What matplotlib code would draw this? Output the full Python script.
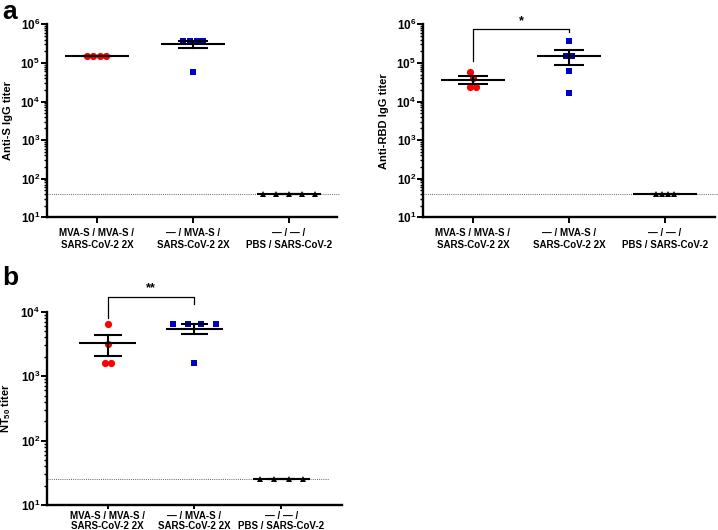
import numpy as np
import matplotlib
matplotlib.use("Agg")
import matplotlib.pyplot as plt
from matplotlib.ticker import FuncFormatter, LogLocator, NullFormatter

plt.rcParams['font.family'] = ['Liberation Sans', 'DejaVu Sans']
plt.rcParams['font.weight'] = 'bold'
plt.rcParams['mathtext.fontset'] = 'custom'
plt.rcParams['mathtext.rm'] = 'Liberation Sans:bold'
plt.rcParams['mathtext.bf'] = 'Liberation Sans:bold'
plt.rcParams['mathtext.it'] = 'Liberation Sans:bold:italic'

# ---- data ----
group_labels = ["MVA-S / MVA-S /\nSARS-CoV-2 2X",
                "\u2014 / MVA-S /\nSARS-CoV-2 2X",
                "\u2014 / \u2014 /\nPBS / SARS-CoV-2"]

antiS_mva_mva = [1.5e5, 1.5e5, 1.5e5, 1.5e5]
antiS_none_mva = [3.7e5, 3.7e5, 3.7e5, 3.7e5, 5.9e4]
antiS_pbs = [40, 40, 40, 40, 40]

antiRBD_mva_mva = [5.9e4, 4.0e4, 2.35e4, 2.35e4]
antiRBD_none_mva = [3.7e5, 1.5e5, 1.5e5, 6.0e4, 1.65e4]
antiRBD_pbs = [40, 40, 40, 40]

nt50_mva_mva = [6.5e3, 3.2e3, 1.6e3, 1.6e3]
nt50_none_mva = [6.4e3, 6.4e3, 6.4e3, 6.4e3, 1.6e3]
nt50_pbs = [25, 25, 25, 25]

lod_igg = 40
lod_nt50 = 25

# horizontal scatter offsets (layout only)
jit_a1 = [[-0.10, -0.04, 0.03, 0.09], [-0.10, -0.03, 0.04, 0.10, 0.0], [-0.27, -0.135, 0.0, 0.135, 0.27]]
jit_a2 = [[-0.03, 0.0, -0.03, 0.03], [0.0, -0.03, 0.03, 0.0, 0.0], [-0.09, -0.03, 0.03, 0.09]]
jit_b = [[0.0, 0.0, -0.035, 0.035], [-0.25, -0.08, 0.08, 0.25, 0.0], [-0.24, -0.08, 0.09, 0.25]]

colors = ['#ff0000', '#0000c8', '#000000']
markers = ['o', 's', '^']
msizes = [5.2, 4.8, 4.6]

fig = plt.figure(figsize=(7.18, 5.30), dpi=100)

def sup_fmt(v, pos):
    e = int(round(np.log10(v)))
    return r'$\mathbf{10^{%d}}$' % e

def panel(rect, groups, jits, ylim, ylabel, lod, lod_end, xlim, xpad, xtl, lsp):
    ax = fig.add_axes(rect)
    for i, (vals, jit) in enumerate(zip(groups, jits)):
        vals = np.asarray(vals, float)
        x = i + np.asarray(jit)
        ax.plot(x, vals, linestyle='none', marker=markers[i], color=colors[i],
                markersize=msizes[i], markeredgewidth=0, zorder=3)
        m = vals.mean()
        sem = vals.std(ddof=1) / np.sqrt(len(vals))
        ax.plot([i - 0.33, i + 0.33], [m, m], color='black', lw=1.5, zorder=4, solid_capstyle='butt')
        ax.plot([i, i], [m - sem, m + sem], color='black', lw=1.5, zorder=4)
        for yv in (m - sem, m + sem):
            ax.plot([i - 0.16, i + 0.16], [yv, yv], color='black', lw=1.5, zorder=4, solid_capstyle='butt')
    ax.plot([xlim[0], lod_end], [lod, lod], color='#666666', lw=0.7, ls=(0, (1, 1.2)),
            clip_on=False, zorder=1)
    ax.set_yscale('log')
    ax.set_ylim(*ylim)
    ax.set_xlim(*xlim)
    ax.yaxis.set_major_locator(LogLocator(base=10, numticks=10))
    ax.yaxis.set_major_formatter(FuncFormatter(sup_fmt))
    ax.yaxis.set_minor_locator(LogLocator(base=10, subs=np.arange(2, 10), numticks=20))
    ax.yaxis.set_minor_formatter(NullFormatter())
    ax.set_xticks([0, 1, 2])
    ax.set_xticklabels(group_labels, fontsize=7, fontweight='bold', linespacing=lsp)
    for s in ('top', 'right'):
        ax.spines[s].set_visible(False)
    for s in ('left', 'bottom'):
        ax.spines[s].set_linewidth(1.7)
    ax.tick_params(axis='y', which='major', length=4, width=1.4, labelsize=8.5, pad=1)
    ax.tick_params(axis='y', which='minor', length=2.2, width=1.0)
    ax.tick_params(axis='x', which='major', length=xtl, width=1.4, pad=xpad)
    ax.set_ylabel(ylabel, fontsize=8, fontweight='bold', labelpad=5)
    return ax

W, H = 718.0, 530.0
def rect(l, r, t, b):
    return [l / W, 1 - b / H, (r - l) / W, (b - t) / H]

ax1 = panel(rect(47, 337, 24.3, 217.3), [antiS_mva_mva, antiS_none_mva, antiS_pbs], jit_a1,
            (10, 1e6), 'Anti-S IgG titer', lod_igg, 2.52, (-0.52, 2.5), 4, 4, 1.15)
ax2 = panel(rect(423, 715, 24.3, 217.3), [antiRBD_mva_mva, antiRBD_none_mva, antiRBD_pbs], jit_a2,
            (10, 1e6), 'Anti-RBD IgG titer', lod_igg, 2.58, (-0.52, 2.52), 4, 4, 1.15)
ax3 = panel(rect(47, 342, 311.7, 505), [nt50_mva_mva, nt50_none_mva, nt50_pbs], jit_b,
            (10, 1e4), r'$\mathbf{NT_{50}}$ titer', lod_nt50, 2.55, (-0.7, 2.7), 1, 3, 1.0)

# significance brackets
ax2.plot([0, 0, 1, 1], [1.1e5, 7.6e5, 7.6e5, 6.3e5], color='black', lw=0.9, clip_on=False)
ax2.text(0.5, 8.3e5, '*', ha='center', va='bottom', fontsize=9, fontweight='bold')
ax3.plot([0, 0, 1, 1], [8.1e3, 1.7e4, 1.7e4, 1.3e4], color='black', lw=0.9, clip_on=False)
ax3.text(0.5, 1.85e4, '**', ha='center', va='bottom', fontsize=9, fontweight='bold')

fig.text(2 / W, 1.0, 'a', fontsize=19, fontweight='bold', ha='left', va='top')
fig.text(2 / W, 1 - 285 / H, 'b', fontsize=19, fontweight='bold', ha='left', va='baseline')

fig.savefig('out.png', dpi=100)
